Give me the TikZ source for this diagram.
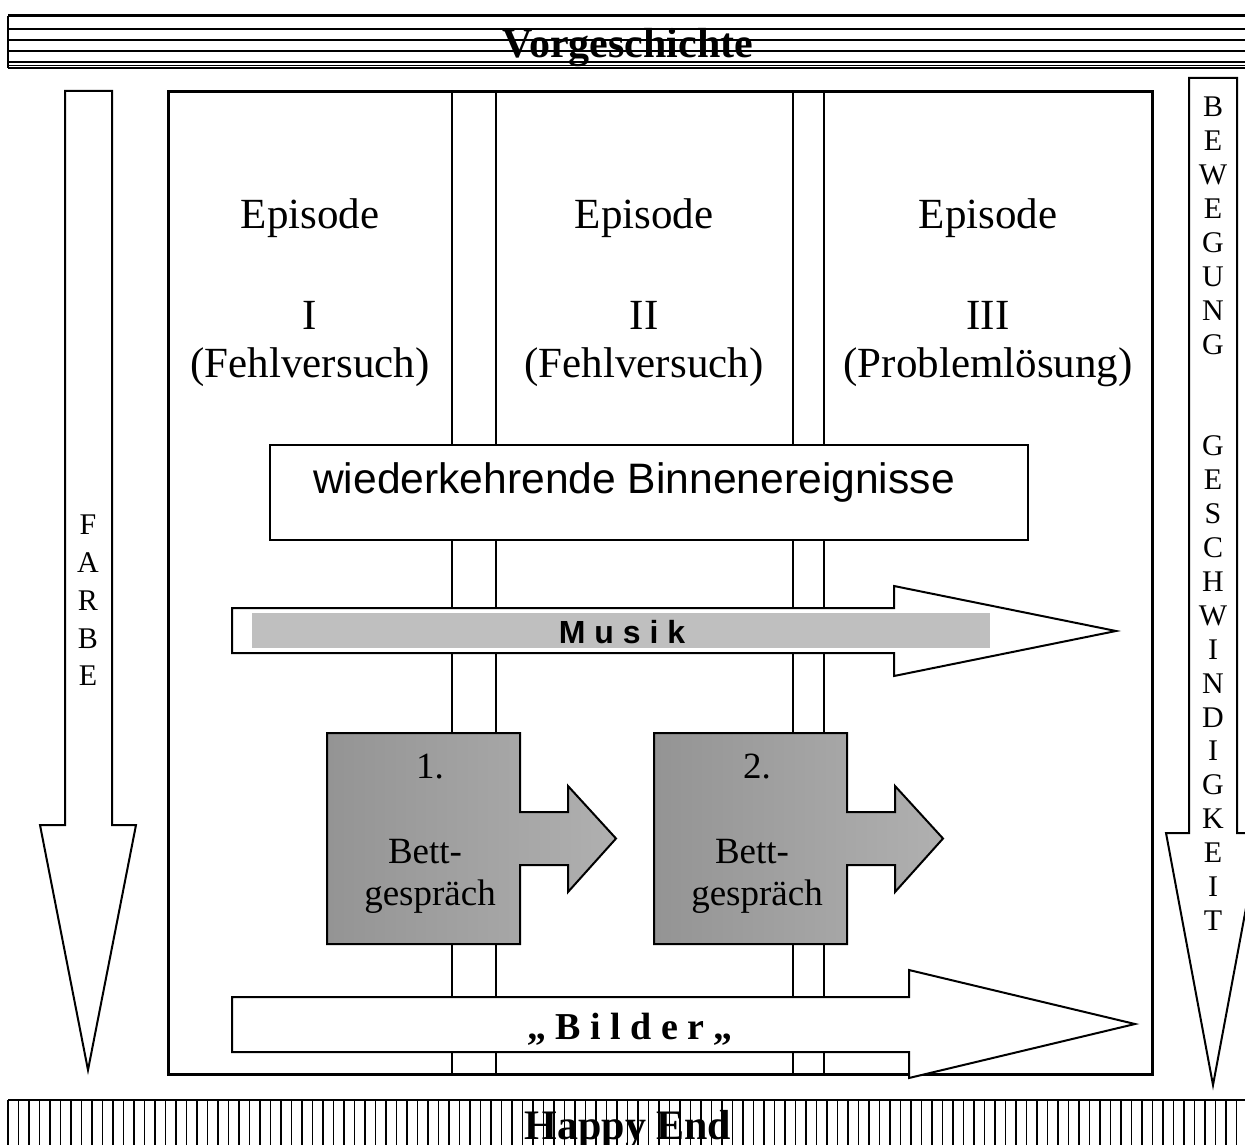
\documentclass[tikz,border=0pt]{standalone}
\usepackage{fontspec}
\setmainfont{Liberation Serif}
\setsansfont{Liberation Sans}
\begin{document}
\begin{tikzpicture}[x=0.5pt,y=-0.5pt]
    \tikzstyle{every node}=[inner sep=0pt, outer sep=0pt];
    \tikzstyle{big}=[anchor=base, font=\fontsize{21.5}{25}\selectfont];
    \tikzstyle{bett}=[anchor=base, font=\fontsize{18.5}{22}\selectfont];
    \tikzstyle{band}=[anchor=base, font=\bfseries\fontsize{21}{25}\selectfont];
    \tikzstyle{hollow}=[draw, line width=1pt, fill=white];
    \tikzstyle{divider}=[line width=1pt];
    \useasboundingbox (0,0) rectangle (1245,1144);

    % Vorgeschichte
    \node[band] (vor) at (628,58) {Vorgeschichte};
    \foreach \y in {29,40,51,62,65.5,68} \draw[line width=0.9pt] (8,\y) -- (1250,\y);
    \draw[line width=1.5pt] (8,16) -- (1250,16);
    \draw[line width=0.9pt] (8,16) -- (8,68);

    % Happy End
    \node[band] (end) at (628,1139) {Happy End};
    \foreach \x in {8,18.5,...,1245} \draw[line width=0.9pt] (\x,1100) -- (\x,1150);
    \draw[line width=1.2pt] (8,1100) -- (1250,1100);

    % main frame with episodes
    \draw[line width=1.5pt] (168,92) rectangle (1152,1074);
    \foreach \x in {452,496,793,824} \draw[divider] (\x,92) -- (\x,1074);
    \foreach \x/\nr/\kind [count=\i] in {310/I/Fehlversuch, 644/II/Fehlversuch, 988/III/Problemlösung}{
        \node[big] (ep\i) at (\x,229) {Episode};
        \node[big] (nr\i) at (\x,329) {\nr};
        \node[big] (kind\i) at (\x,377) {(\kind)};
    }

    \node[hollow, minimum width=379pt, minimum height=47.5pt] (binnenbox) at (649,492.5) {};
    \node[font=\sffamily\fontsize{21.3}{25}\selectfont] (binnen) at (634,482) {wiederkehrende Binnenereignisse};

    % Musik
    \draw[hollow] (232,608) -- (894,608) -- (894,586) -- (1116,631) -- (894,676) -- (894,653) -- (232,653) -- cycle;
    \fill[black!25] (252,613) rectangle (990,648);
    \node[font=\sffamily\bfseries\fontsize{16}{19}\selectfont] (musik) at (622,632) {M u s i k};

    % Bettgespraeche
    \foreach \s [count=\i] in {0,327}{
        \path[draw, line width=1pt, left color=black!42, right color=black!31]
            ({327+\s},733) -- ({520+\s},733) -- ({520+\s},812) -- ({568+\s},812) -- ({568+\s},786)
            -- ({616+\s},838.5) -- ({568+\s},892) -- ({568+\s},865) -- ({520+\s},865) -- ({520+\s},944)
            -- ({327+\s},944) -- cycle;
        \node[bett] (num\i) at ({430+\s},778) {\i.};
        \node[bett] (bett\i) at ({425+\s},863) {Bett-};
        \node[bett] (gespr\i) at ({430+\s},905) {gespräch};
    }

    % Bilder
    \draw[hollow] (232,997) -- (909,997) -- (909,970) -- (1135,1024) -- (909,1078) -- (909,1052) -- (232,1052) -- cycle;
    \node[bett, font=\bfseries\fontsize{19}{22}\selectfont] (bilder) at (630,1039) {„ B i l d e r „};

    % Farbe
    \draw[hollow] (65,91) -- (112,91) -- (112,825) -- (136,825) -- (88,1070) -- (40,825) -- (65,825) -- cycle;
    \node[align=center, font=\fontsize{15}{18.9}\selectfont] (farbe) at (88,600.5) {F\\A\\R\\B\\E};

    % Bewegung
    \draw[hollow] (1189,78) -- (1237,78) -- (1237,833) -- (1260,833) -- (1213,1085) -- (1166,833) -- (1189,833) -- cycle;
    \node[align=center, font=\fontsize{15}{16.95}\selectfont] (bewegung) at (1213,513.8)
        {B\\E\\W\\E\\G\\U\\N\\G\\~\\~\\G\\E\\S\\C\\H\\W\\I\\N\\D\\I\\G\\K\\E\\I\\T};
\end{tikzpicture}
\end{document}
